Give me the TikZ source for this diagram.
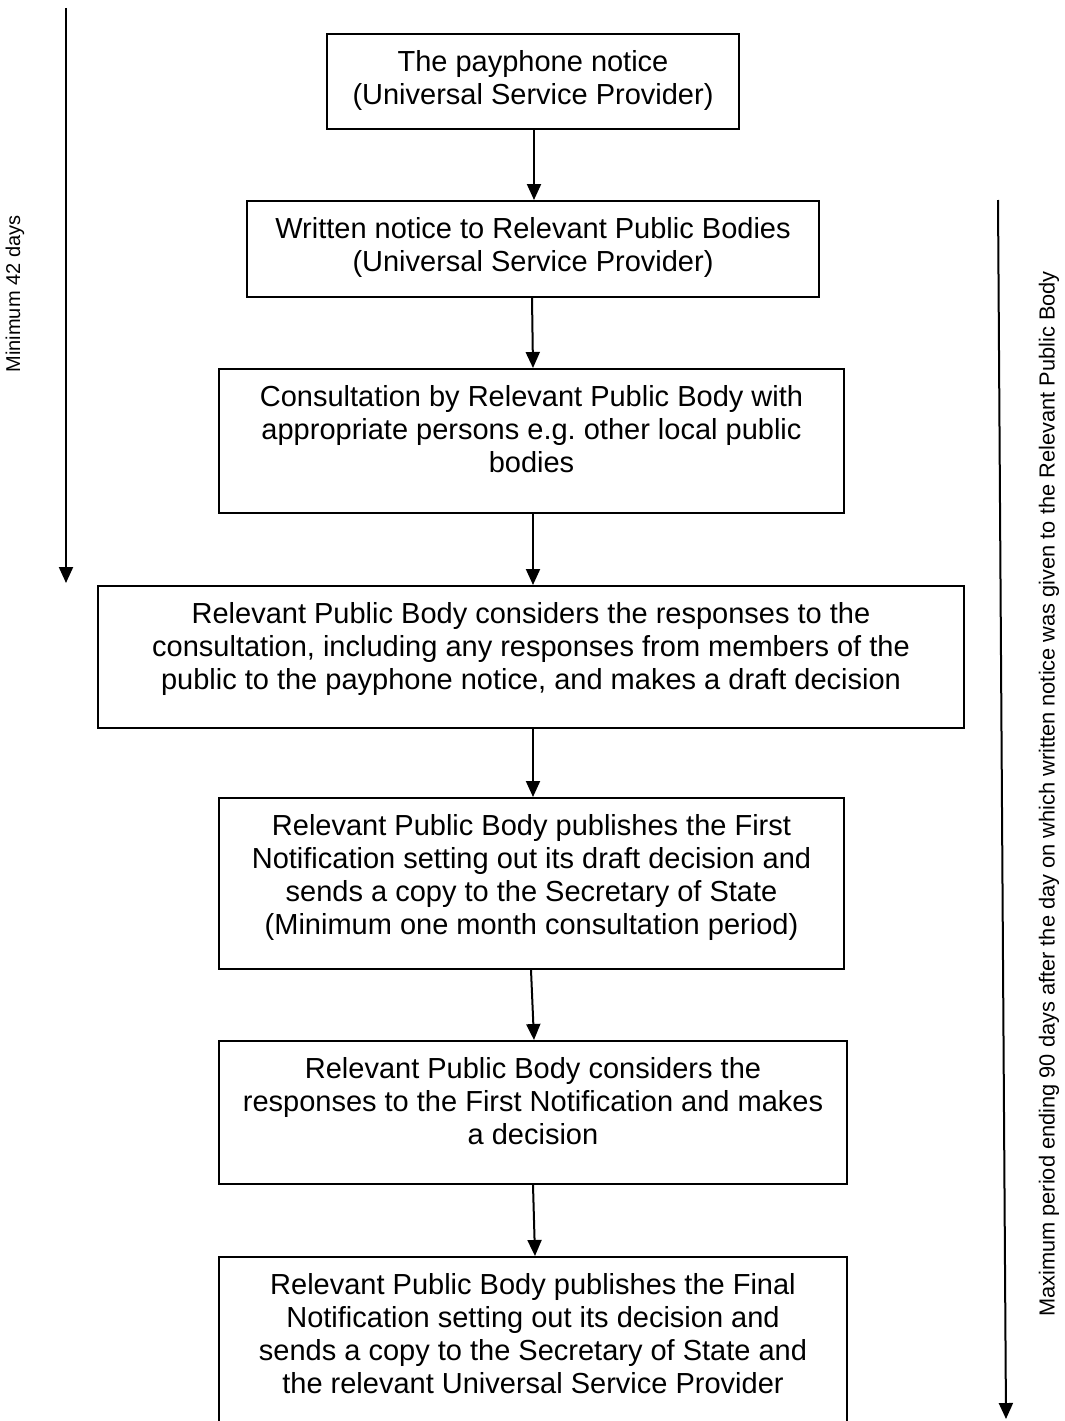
\documentclass[tikz,border=0pt]{standalone}
\usepackage{fontspec}
\setmainfont{Liberation Sans}
\usetikzlibrary{arrows.meta}
\newcommand\bxt[3]{\parbox[t][#2pt][t]{#1pt}{\centering\rule{0pt}{37pt}#3}}
\tikzset{
  box/.style={draw, line width=2pt, inner sep=0pt, anchor=north west, font=\fontsize{29}{33}\selectfont},
  arr/.style={line width=2pt, -{Triangle[width=14pt,length=16pt]}},
  side/.style={font=\fontsize{20}{24}\selectfont, rotate=90, inner sep=0pt}
}
\begin{document}
\begin{tikzpicture}[x=1pt,y=-1pt]
\useasboundingbox (0,0) rectangle (1065,1421);
\node[box] (b1) at (326,33) {\bxt{412}{95}{The payphone notice\\(Universal Service Provider)}};
\node[box] (b2) at (246,200) {\bxt{572}{96}{Written notice to Relevant Public Bodies\\(Universal Service Provider)}};
\node[box] (b3) at (218,368) {\bxt{625}{144}{Consultation by Relevant Public Body with\\appropriate persons e.g.\ other local public\\bodies}};
\node[box] (b4) at (97,585) {\bxt{866}{142}{Relevant Public Body considers the responses to the\\consultation, including any responses from members of the\\public to the payphone notice, and makes a draft decision}};
\node[box] (b5) at (218,797) {\bxt{625}{171}{Relevant Public Body publishes the First\\Notification setting out its draft decision and\\sends a copy to the Secretary of State\\(Minimum one month consultation period)}};
\node[box] (b6) at (218,1040) {\bxt{628}{143}{Relevant Public Body considers the\\responses to the First Notification and makes\\a decision}};
\node[box] (b7) at (218,1256) {\bxt{628}{178}{Relevant Public Body publishes the Final\\Notification setting out its decision and\\sends a copy to the Secretary of State and\\the relevant Universal Service Provider}};
\draw[arr] ([xshift=1pt]b1.south) -- ([xshift=1pt]b2.north);
\draw[arr] ([xshift=-1pt]b2.south) -- ([xshift=1.5pt]b3.north);
\draw[arr] ([xshift=1.5pt]b3.south) -- ([xshift=2pt]b4.north);
\draw[arr] ([xshift=2pt]b4.south) -- ([xshift=1.5pt]b5.north);
\draw[arr] ([xshift=-0.5pt]b5.south) -- ([xshift=1pt]b6.north);
\draw[arr] ([xshift=0pt]b6.south) -- ([xshift=2pt]b7.north);
\coordinate (la1) at (66,8);
\coordinate (la2) at (66,583);
\draw[arr] (la1) -- (la2);
\node[side] (ll) at (15,294) {Minimum 42 days};
\coordinate (ra1) at (998,200);
\coordinate (ra2) at (1006,1419);
\draw[arr] (ra1) -- (ra2);
\node[side, font=\fontsize{21.8}{26}\selectfont] (rl) at (1049,794) {Maximum period ending 90 days after the day on which written notice was given to the Relevant Public Body};
\end{tikzpicture}
\end{document}
